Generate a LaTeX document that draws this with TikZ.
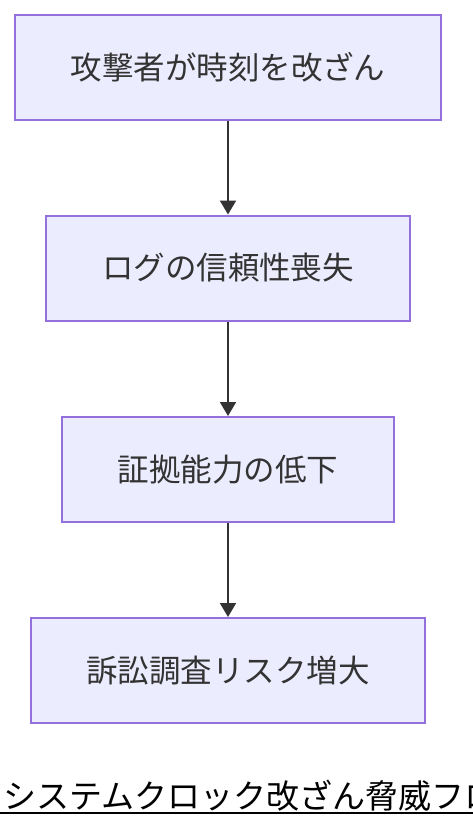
\documentclass[tikz,border=0pt]{standalone}
\usepackage{fontspec}
\usepackage{xcolor}
\usetikzlibrary{arrows.meta, positioning}
\setmainfont{Noto Sans CJK JP}
\definecolor{boxfill}{HTML}{ECECFF}
\definecolor{boxline}{HTML}{9370DB}
\definecolor{ink}{HTML}{333333}

\begin{document}
\begin{tikzpicture}[x=1pt, y=-1pt,
            stage/.style={draw=boxline, line width=2pt, fill=boxfill, rectangle, inner sep=0pt,
                minimum height=105pt, text=ink, font=\fontsize{31.5}{36}\selectfont},
            flow/.style={-{Triangle[width=16pt, length=14pt]}, line width=2pt, draw=ink}]

            \useasboundingbox (0,0) rectangle (472,828);

            \node[stage, minimum width=426pt] (tamper) at (228,67.5) {攻撃者が時刻を改ざん};
            \node[stage, minimum width=364pt] (trust) at (228,268) {ログの信頼性喪失};
            \node[stage, minimum width=332pt] (evidence) at (228,469.5) {証拠能力の低下};
            \node[stage, minimum width=394pt] (risk) at (228,670.5) {訴訟調査リスク増大};

            \draw[flow] (tamper) -- (trust);
            \draw[flow] (trust) -- (evidence);
            \draw[flow] (evidence) -- (risk);

            % title
            \node[anchor=west, inner sep=0pt, font=\fontsize{33}{38}\selectfont] (title) at (3,796) {システムクロック改ざん脅威フロー};
            \draw[line width=2pt] (0,813) -- (480,813);
        \end{tikzpicture}
\end{document}
